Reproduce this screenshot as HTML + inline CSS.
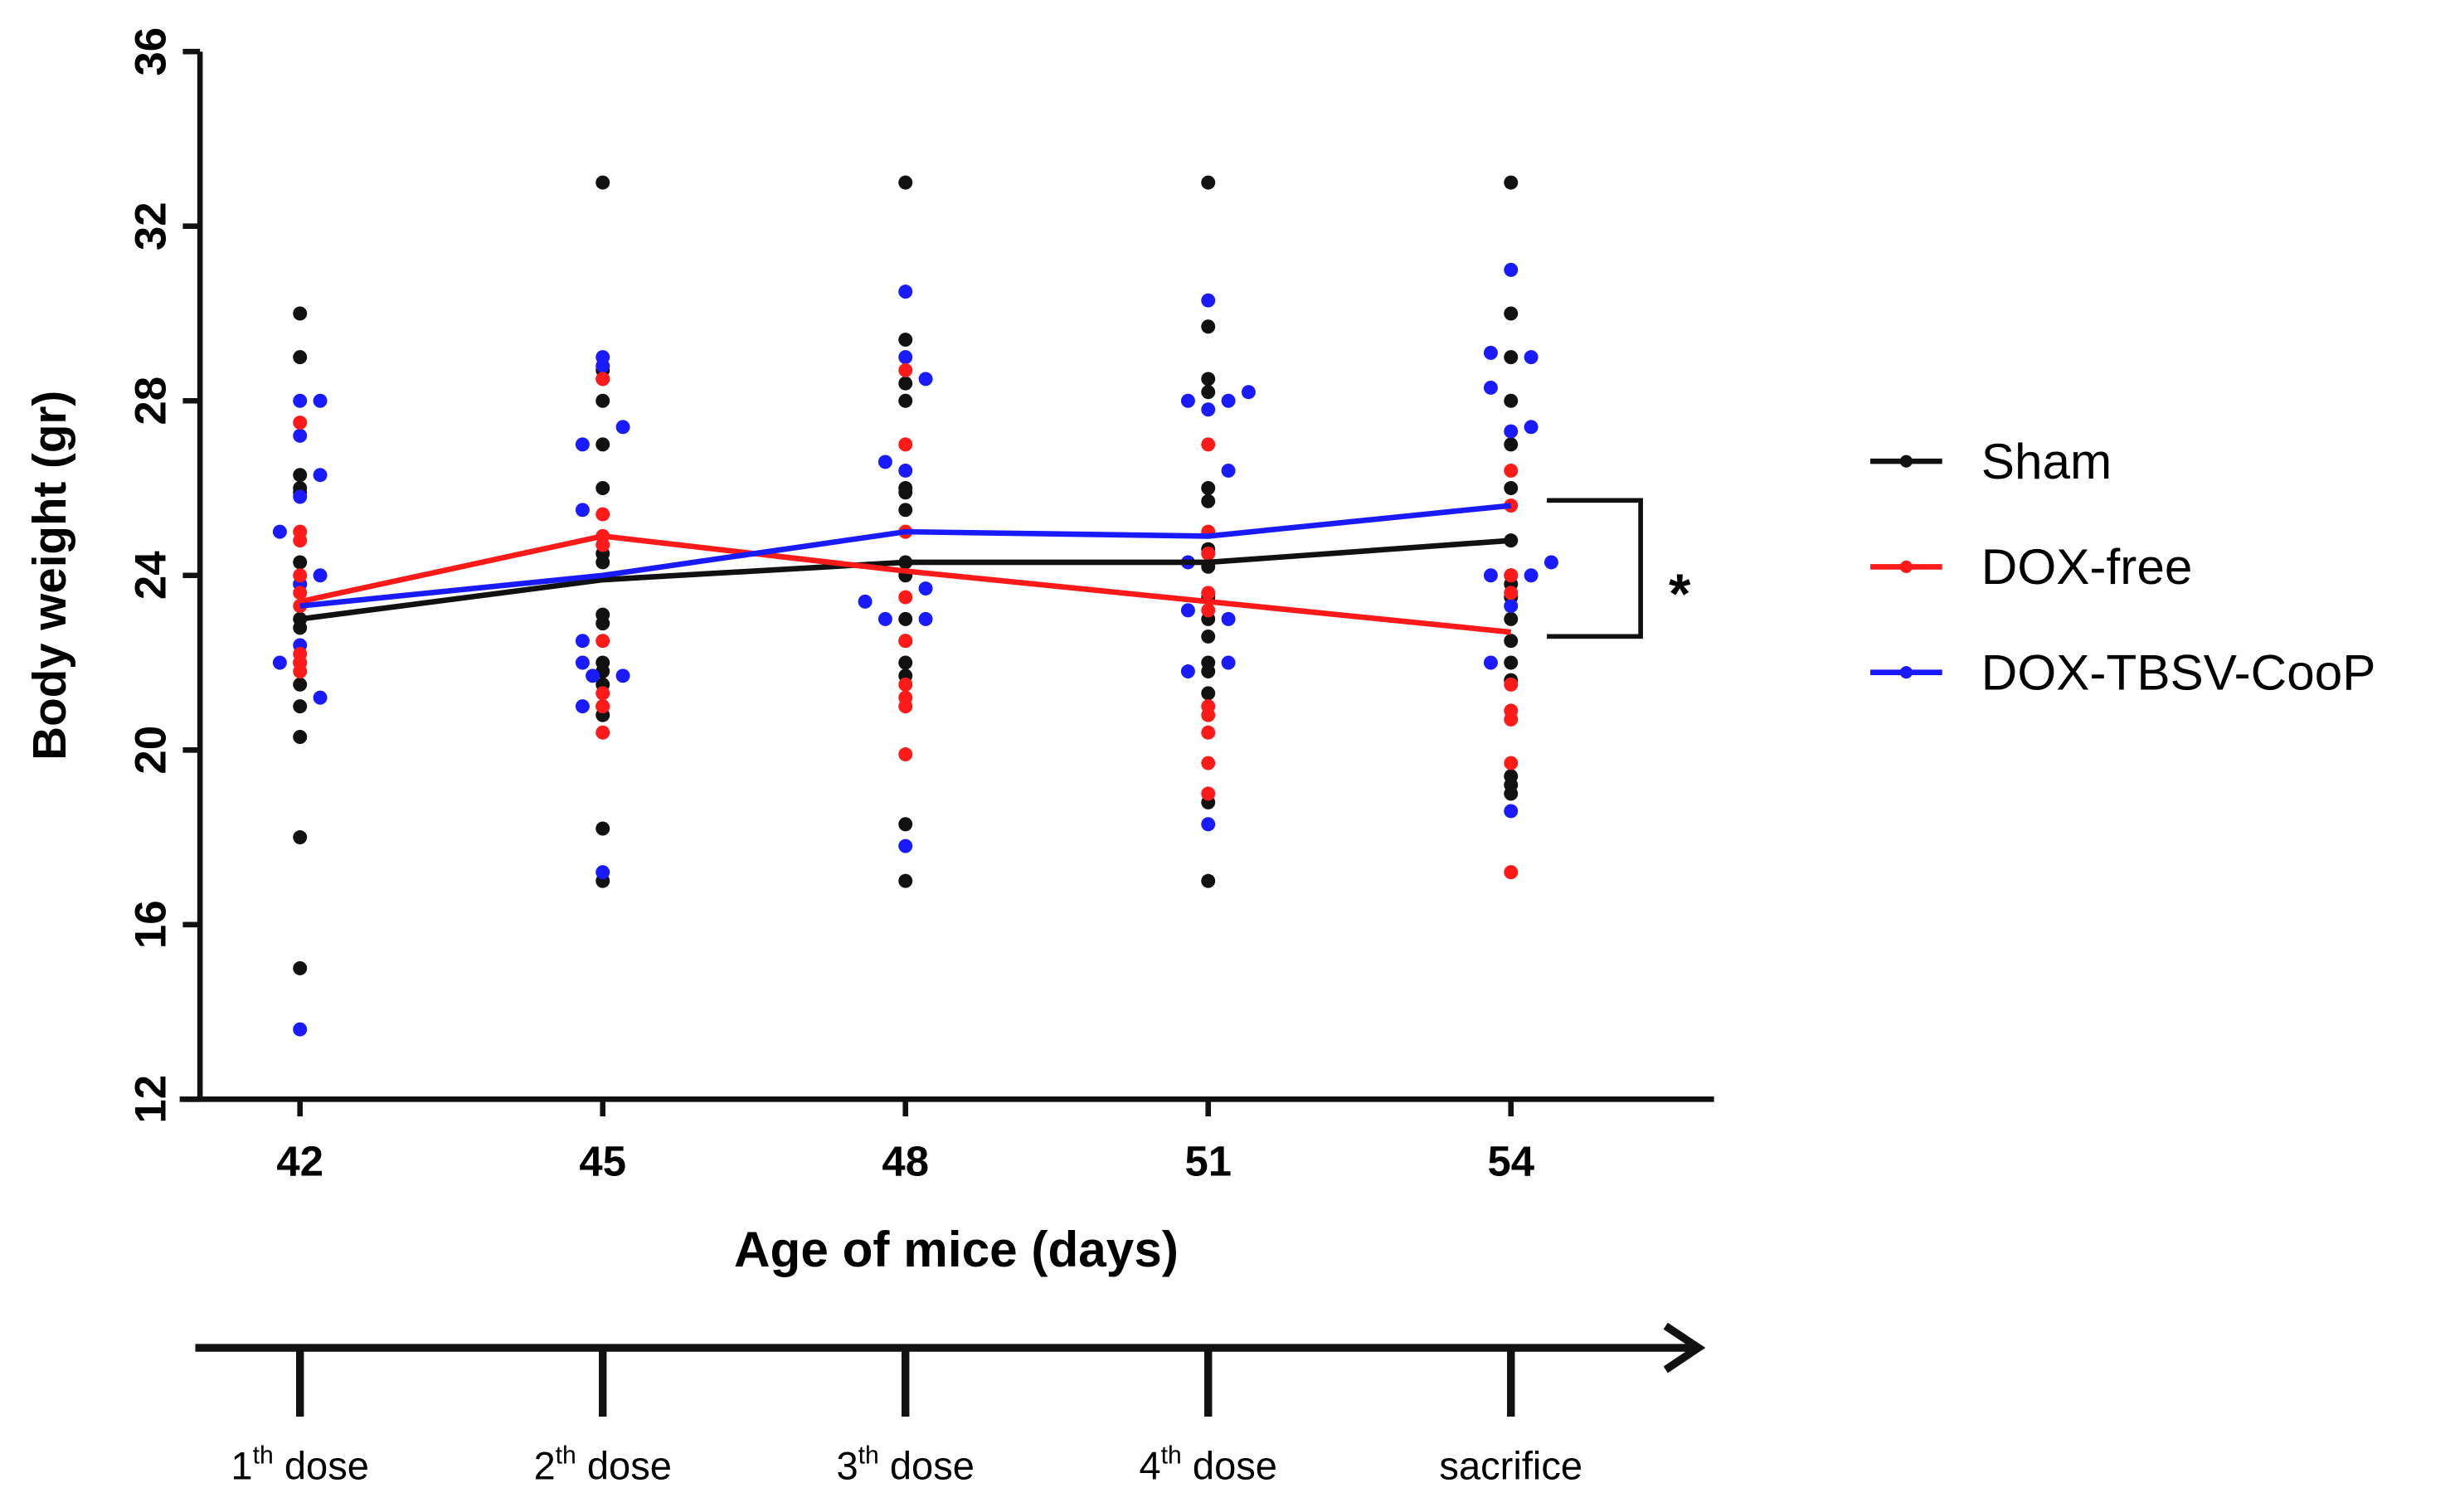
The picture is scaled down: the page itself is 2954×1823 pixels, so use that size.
<!DOCTYPE html>
<html><head><meta charset="utf-8"><style>
html,body{margin:0;padding:0;background:#fff;}
svg{display:block;}
text{font-family:"Liberation Sans",Arial,sans-serif;}
</style></head><body>
<svg id="chart" width="2954" height="1823" viewBox="0 0 1568 967" preserveAspectRatio="none" xmlns="http://www.w3.org/2000/svg">
<g id="axes"></g>
<g id="dots"></g>
<g id="lines"></g>
<g id="legend"></g>
<g>
<polyline points="990,320 1050,320 1050,407 990,407" fill="none" stroke="#111" stroke-width="3"/>
<text x="1075" y="392" font-size="36" font-weight="bold" text-anchor="middle">*</text>
</g>
<text x="612" y="810" font-size="32" font-weight="bold" text-anchor="middle">Age of mice (days)</text>
<text transform="translate(42,368) rotate(-90)" font-size="30" font-weight="bold" text-anchor="middle">Body weight (gr)</text>
<g>
<line x1="125" y1="862" x2="1085" y2="862" stroke="#111" stroke-width="5"/>
<polyline points="1066,848 1087,862 1066,876" fill="none" stroke="#111" stroke-width="5"/>
<g id="timeline-ticks"></g>
</g>
</svg>
<script>
const categories = [42, 45, 48, 51, 54];
const yTicks = [12, 16, 20, 24, 28, 32, 36];
const seriesNames = ['Sham', 'DOX-free', 'DOX-TBSV-CooP'];
const seriesColors = ['#111111', '#ff1a1a', '#1a1aff'];
const shamMean = [23.0, 23.9, 24.3, 24.3, 24.8];
const doxFreeMean = [23.4, 24.9, 24.1, 23.4, 22.7];
const tbsvMean = [23.3, 24.0, 25.0, 24.9, 25.6];
// points: [value, jitter (days)]
const shamPoints = [
 [[30,0],[29,0],[26.3,0],[26,0],[25.9,0],[24.3,0],[23.8,0],[23,0],[22.8,0],[22,0],[21.5,0],[21,0],[20.3,0],[18,0],[15,0]],
 [[33,0],[28.7,0],[28.5,0],[28,0],[27,0],[26,0],[24.5,0],[24.3,0],[23.1,0],[22.9,0],[22,0],[21.8,0],[21.5,0],[21,0],[20.8,0],[18.2,0],[17,0]],
 [[33,0],[29.4,0],[28.4,0],[28,0],[26,0],[25.5,0],[25.9,0],[24.3,0],[24,0],[23,0],[22.5,0],[22,0],[21.7,0],[18.3,0],[17,0]],
 [[33,0],[29.7,0],[28.5,0],[28.2,0],[26,0],[25.7,0],[24.6,0],[24.2,0],[23.5,0],[23,0],[22.6,0],[22,0],[21.8,0],[21.3,0],[18.8,0],[17,0]],
 [[33,0],[30,0],[29,0],[28,0],[27,0],[26,0],[24.8,0],[24,0],[23.8,0],[23.5,0],[23,0],[22.5,0],[22,0],[21.6,0],[19.4,0],[19.2,0],[19,0]]
];
const doxFreePoints = [
 [[27.5,0],[25,0],[24.8,0],[24,0],[23.6,0],[23.3,0],[22.2,0],[22,0],[21.8,0]],
 [[28.5,0],[25.4,0],[24.9,0],[24.7,0],[22.5,0],[21.3,0],[21,0],[20.4,0]],
 [[28.7,0],[27,0],[25,0],[23.5,0],[22.5,0],[21.5,0],[21.2,0],[21,0],[19.9,0]],
 [[27,0],[25,0],[24.5,0],[23.6,0],[23.2,0],[21,0],[20.8,0],[20.4,0],[19.7,0],[19,0]],
 [[26.4,0],[25.6,0],[24,0],[23.6,0],[21.5,0],[20.9,0],[20.7,0],[19.7,0],[17.2,0]]
];
const tbsvPoints = [
 [[28,0],[28,0.2],[27.2,0],[26.3,0.2],[25.8,0],[25,-0.2],[24,0.2],[23.8,0],[22.4,0],[22,-0.2],[21.2,0.2],[13.6,0]],
 [[29,0],[28.8,0],[27.4,0.2],[27,-0.2],[25.5,-0.2],[22.5,-0.2],[22,-0.2],[21.7,0.2],[21,-0.2],[21.7,-0.1],[17.2,0]],
 [[30.5,0],[29,0],[28.5,0.2],[26.6,-0.2],[26.4,0],[23.4,-0.4],[23.7,0.2],[23,-0.2],[23,0.2],[17.8,0]],
 [[30.3,0],[28,-0.2],[27.8,0],[28,0.2],[28.2,0.4],[26.4,0.2],[24.3,-0.2],[23.2,-0.2],[23,0.2],[22,0.2],[21.8,-0.2],[18.3,0]],
 [[31,0],[29.1,-0.2],[29,0.2],[28.3,-0.2],[27.3,0],[27.4,0.2],[24,-0.2],[24,0.2],[24.3,0.4],[23.3,0],[22,-0.2],[18.6,0]]
];
const doseLabels = [['1','th',' dose'],['2','th',' dose'],['3','th',' dose'],['4','th',' dose'],['sacrifice','','']];

const NS = 'http://www.w3.org/2000/svg';
function X(d){ return 192 + (d - 42) * (967 - 192) / 12; }
function Y(v){ return 703 - (v - 12) * (703 - 33) / 24; }
function mk(tag, attrs, parent){ const e = document.createElementNS(NS, tag); for (const k in attrs) e.setAttribute(k, attrs[k]); parent.appendChild(e); return e; }

const axes = document.getElementById('axes');
let e = mk('line', {x1:128,y1:33,x2:128,y2:703,stroke:'#111','stroke-width':3.5}, axes);


e = mk('line', {x1:115,y1:703,x2:1097,y2:703,stroke:'#111','stroke-width':3.5}, axes);


yTicks.forEach(t => {
  mk('line', {x1:117,y1:Y(t),x2:128,y2:Y(t),stroke:'#111','stroke-width':3.5}, axes);
  const tx = mk('text', {transform:`translate(106,${Y(t)}) rotate(-90)`,'font-size':28,'font-weight':'bold','text-anchor':'middle'}, axes);
  tx.textContent = t;
  
  
});
categories.forEach(c => {
  mk('line', {x1:X(c),y1:703,x2:X(c),y2:714,stroke:'#111','stroke-width':3.5}, axes);
  const tx = mk('text', {x:X(c),y:752,'font-size':27,'font-weight':'bold','text-anchor':'middle'}, axes);
  tx.textContent = c;
  
  
});

const dots = document.getElementById('dots');
[shamPoints, tbsvPoints, doxFreePoints].forEach((set, si) => {
  const color = [seriesColors[0], seriesColors[2], seriesColors[1]][si];
  set.forEach((pts, ci) => {
    pts.forEach(p => {
      const c = mk('circle', {cx:X(categories[ci] + p[1]), cy:Y(p[0]), r:4.5, fill:color}, dots);
      
      
    });
  });
});
const lines = document.getElementById('lines');
[shamMean, doxFreeMean, tbsvMean].forEach((m, si) => {
  const pl = mk('polyline', {points:m.map((v,i)=>X(categories[i])+','+Y(v)).join(' '), fill:'none', stroke:seriesColors[si], 'stroke-width':3.5}, lines);
  
  
});

const legend = document.getElementById('legend');
seriesNames.forEach((n, i) => {
  const y = 295 + i * 67.5;
  const g = mk('g', {}, legend);
  
  
  mk('line', {x1:1197,y1:y,x2:1243,y2:y,stroke:seriesColors[i],'stroke-width':3.5}, g);
  mk('circle', {cx:1220,cy:y,r:4,fill:seriesColors[i]}, g);
  const t = mk('text', {x:1268,y:y+11,'font-size':32}, g);
  t.textContent = n;
});

const tt = document.getElementById('timeline-ticks');
categories.forEach((c, i) => {
  mk('line', {x1:X(c),y1:862,x2:X(c),y2:906,stroke:'#111','stroke-width':5}, tt);
  const t = mk('text', {x:X(c),y:946,'font-size':25,'text-anchor':'middle'}, tt);
  
  
  const L = doseLabels[i];
  const a = mk('tspan', {}, t); a.textContent = L[0];
  if (L[1]) {
    const s = mk('tspan', {dy:-10,'font-size':16}, t); s.textContent = L[1];
    const b = mk('tspan', {dy:10}, t); b.textContent = L[2];
  }
});
</script>
</body></html>
